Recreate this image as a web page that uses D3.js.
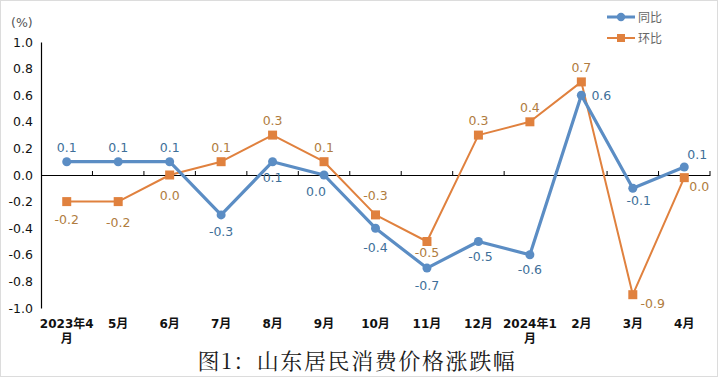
<!DOCTYPE html>
<html><head><meta charset="utf-8">
<script src="https://cdn.jsdelivr.net/npm/d3@7/dist/d3.min.js"></script>
<style>
html,body{margin:0;padding:0;background:#fff;}
svg{display:block;}
</style></head>
<body>
<script>
const categories = ["2023年4\n月","5月","6月","7月","8月","9月","10月","11月","12月","2024年1\n月","2月","3月","4月"];
const yoy = [0.1, 0.1, 0.1, -0.3, 0.1, 0.0, -0.4, -0.7, -0.5, -0.6, 0.6, -0.1, 0.06];
const mom = [-0.2, -0.2, 0.0, 0.1, 0.3, 0.1, -0.3, -0.5, 0.3, 0.4, 0.7, -0.9, -0.02];
const yTicks = [1.0, 0.8, 0.6, 0.4, 0.2, 0.0, -0.2, -0.4, -0.6, -0.8, -1.0];
const seriesNames = ["同比", "环比"];
const titleText = "图1：山东居民消费价格涨跌幅";
// label offsets relative to point (style only): [dx, dy of baseline]
const yoyLabelOffset = [[0,-10],[0,-10],[0,-10],[0,21],[0,20],[-8,21],[0,24],[0,22],[2,19],[0,19],[20,5],[6,17],[13,-8]];
const momLabelOffset = [[0,22],[0,25],[0,25],[0,-10],[0,-10],[0,-10],[0,-15],[0,15],[0,-10],[0,-10],[0,-10],[20,13],[15,13]];

const W = 718, H = 379;
const svg = d3.select("body").append("svg").attr("width", W).attr("height", H);
svg.append("rect").attr("x",0.5).attr("y",0.5).attr("width",W-1).attr("height",H-3)
  .attr("fill","#fff").attr("stroke","#dcdcdc");

const pL = 41, pR = 710, pT = 42, pB = 308;
const x = d3.scaleBand().domain(d3.range(categories.length)).range([pL, pR]);
const y = d3.scaleLinear().domain([-1, 1]).range([pB, pT]);
const cx = i => x(i) + x.bandwidth()/2;

const font = "'DejaVu Sans', 'Noto Sans CJK SC', sans-serif";

// y axis
const yAxis = d3.axisLeft(y).tickValues(yTicks).tickSize(0).tickPadding(8).tickFormat(d3.format(".1f"));
const gy = svg.append("g").attr("transform", `translate(${pL},0)`).call(yAxis);
gy.select(".domain").attr("stroke","#000").attr("stroke-width",1.2);
gy.selectAll("text").attr("font-family", font).attr("font-size", 12.5).attr("fill","#111")
  .text(d => d3.format(".1f")(d).replace("−","-"));

// x axis at zero
const xAxis = d3.axisTop(x).tickSize(0).tickFormat("");
const gx = svg.append("g").attr("transform", `translate(0,${y(0)})`).call(xAxis);
gx.select(".domain").attr("stroke","#000").attr("stroke-width",1.2);
const boundaries = d3.range(1, categories.length + 1);
gx.selectAll(".tk").data(boundaries).enter().append("line")
  .attr("x1", i => x(0) + i * x.step()).attr("x2", i => x(0) + i * x.step())
  .attr("y1", 0).attr("y2", -4).attr("stroke","#000").attr("stroke-width",1);

// category labels
categories.forEach((c, i) => {
  const lines = c.split("\n");
  const t = svg.append("text").attr("x", cx(i)).attr("y", 328)
    .attr("text-anchor","middle").attr("font-family", font).attr("font-size", 12)
    .attr("font-weight","bold").attr("fill","#111");
  lines.forEach((l, k) => t.append("tspan").attr("x", cx(i)).attr("dy", k ? 15 : 0).text(l));
});

// unit
svg.append("text").attr("x", 11).attr("y", 27).attr("font-family", font)
  .attr("font-size", 12.5).attr("fill","#555").text("(%)");

const blue = "#5b8dc4", orange = "#e0813e";
const blueLbl = "#3e6f99", orangeLbl = "#b07c40";
const line = d3.line().x((d, i) => cx(i)).y(d => y(d));

svg.append("path").datum(mom).attr("d", line).attr("fill","none")
  .attr("stroke", orange).attr("stroke-width", 2).attr("stroke-linejoin","round");
svg.append("path").datum(yoy).attr("d", line).attr("fill","none")
  .attr("stroke", blue).attr("stroke-width", 3.2).attr("stroke-linejoin","round");

svg.selectAll(".ms").data(mom).enter().append("rect")
  .attr("x", (d, i) => cx(i) - 4.5).attr("y", d => y(d) - 4.5)
  .attr("width", 9).attr("height", 9).attr("fill", orange);
svg.selectAll(".mc").data(yoy).enter().append("circle")
  .attr("cx", (d, i) => cx(i)).attr("cy", d => y(d)).attr("r", 4.5).attr("fill", blue);

const fmt = v => (Math.round(v * 10) / 10).toFixed(1);
function labels(data, offs, color) {
  data.forEach((v, i) => {
    const o = offs[i];
    svg.append("text").attr("x", cx(i) + o[0]).attr("y", y(v) + o[1])
      .attr("text-anchor","middle").attr("font-family", font).attr("font-size", 12.5)
      .attr("fill", color).text(fmt(v));
  });
}
labels(yoy, yoyLabelOffset, blueLbl);
labels(mom, momLabelOffset, orangeLbl);

// legend
const lg = svg.append("g");
[[blue, 17, "c"], [orange, 38, "s"]].forEach(([col, ly, m], k) => {
  lg.append("line").attr("x1", 607).attr("x2", 635).attr("y1", ly).attr("y2", ly)
    .attr("stroke", col).attr("stroke-width", k ? 2 : 3);
  if (m === "c") lg.append("circle").attr("cx", 621).attr("cy", ly).attr("r", 4.2).attr("fill", col);
  else lg.append("rect").attr("x", 617).attr("y", ly - 4).attr("width", 8).attr("height", 8).attr("fill", col);
  lg.append("text").attr("x", 638).attr("y", ly + 4.5).attr("font-family", "'Noto Sans CJK SC', sans-serif")
    .attr("font-size", 12).attr("fill", "#666").text(seriesNames[k]);
});

// title
svg.append("text").attr("x", 357).attr("y", 369).attr("text-anchor","middle")
  .attr("font-family", "'Noto Serif CJK SC', 'Noto Sans CJK SC', serif").attr("font-size", 22)
  .attr("letter-spacing", 1.6).attr("fill","#1a1a1a").text(titleText);
</script>
</body></html>
